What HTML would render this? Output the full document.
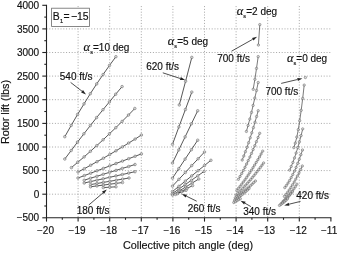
<!DOCTYPE html><html><head><meta charset="utf-8"><title>Rotor lift</title>
<style>html,body{margin:0;padding:0;background:#fff}svg{display:block;filter:blur(0.35px)}text{font-family:"Liberation Sans",Arial,sans-serif;fill:#111;stroke:#111;stroke-width:0.16px}</style></head><body>
<svg width="337" height="253" viewBox="0 0 337 253">
<rect width="337" height="253" fill="#fff"/>
<g stroke="#a6a6a6" stroke-width="1" stroke-dasharray="1 1.8" fill="none">
<path d="M78.1 6.1 V217.8"/>
<path d="M109.7 6.1 V217.8"/>
<path d="M141.3 6.1 V217.8"/>
<path d="M172.9 6.1 V217.8"/>
<path d="M204.5 6.1 V217.8"/>
<path d="M236.1 6.1 V217.8"/>
<path d="M267.7 6.1 V217.8"/>
<path d="M299.3 6.1 V217.8"/>
<path d="M46.5 194.2 H330.9"/>
<path d="M46.5 170.6 H330.9"/>
<path d="M46.5 147.0 H330.9"/>
<path d="M46.5 123.4 H330.9"/>
<path d="M46.5 99.7 H330.9"/>
<path d="M46.5 76.1 H330.9"/>
<path d="M46.5 52.5 H330.9"/>
<path d="M46.5 28.9 H330.9"/>
</g>
<g stroke="#222" stroke-width="1.1" fill="none">
<path d="M46.5 4.8 V217.8"/>
<path d="M46.0 217.8 H331.4"/>
<path d="M46.5 217.8 v3.8"/>
<path d="M62.3 217.8 v2"/>
<path d="M78.1 217.8 v3.8"/>
<path d="M93.9 217.8 v2"/>
<path d="M109.7 217.8 v3.8"/>
<path d="M125.5 217.8 v2"/>
<path d="M141.3 217.8 v3.8"/>
<path d="M157.1 217.8 v2"/>
<path d="M172.9 217.8 v3.8"/>
<path d="M188.7 217.8 v2"/>
<path d="M204.5 217.8 v3.8"/>
<path d="M220.3 217.8 v2"/>
<path d="M236.1 217.8 v3.8"/>
<path d="M251.9 217.8 v2"/>
<path d="M267.7 217.8 v3.8"/>
<path d="M283.5 217.8 v2"/>
<path d="M299.3 217.8 v3.8"/>
<path d="M315.1 217.8 v2"/>
<path d="M330.9 217.8 v3.8"/>
<path d="M46.5 217.8 h-4.2"/>
<path d="M46.5 206.0 h-2.2"/>
<path d="M46.5 194.2 h-4.2"/>
<path d="M46.5 182.4 h-2.2"/>
<path d="M46.5 170.6 h-4.2"/>
<path d="M46.5 158.8 h-2.2"/>
<path d="M46.5 147.0 h-4.2"/>
<path d="M46.5 135.2 h-2.2"/>
<path d="M46.5 123.4 h-4.2"/>
<path d="M46.5 111.5 h-2.2"/>
<path d="M46.5 99.7 h-4.2"/>
<path d="M46.5 87.9 h-2.2"/>
<path d="M46.5 76.1 h-4.2"/>
<path d="M46.5 64.3 h-2.2"/>
<path d="M46.5 52.5 h-4.2"/>
<path d="M46.5 40.7 h-2.2"/>
<path d="M46.5 28.9 h-4.2"/>
<path d="M46.5 17.1 h-2.2"/>
<path d="M46.5 5.3 h-4.2"/>
</g>
<g font-size="10" text-anchor="middle">
<text x="45.5" y="233.5">−20</text>
<text x="77.1" y="233.5">−19</text>
<text x="108.7" y="233.5">−18</text>
<text x="140.3" y="233.5">−17</text>
<text x="171.9" y="233.5">−16</text>
<text x="203.5" y="233.5">−15</text>
<text x="235.1" y="233.5">−14</text>
<text x="266.7" y="233.5">−13</text>
<text x="298.3" y="233.5">−12</text>
<text x="329.1" y="233.5">−11</text>
</g>
<g font-size="10" text-anchor="end">
<text x="39.2" y="221.4">−500</text>
<text x="39.2" y="197.8">0</text>
<text x="39.2" y="174.2">500</text>
<text x="39.2" y="150.6">1000</text>
<text x="39.2" y="127.0">1500</text>
<text x="39.2" y="103.3">2000</text>
<text x="39.2" y="79.7">2500</text>
<text x="39.2" y="56.1">3000</text>
<text x="39.2" y="32.5">3500</text>
<text x="39.2" y="8.9">4000</text>
</g>
<text x="188.1" y="249.4" font-size="10.8" text-anchor="middle">Collective pitch angle (deg)</text>
<text transform="translate(9.3 112) rotate(-90)" font-size="10.8" text-anchor="middle">Rotor lift (lbs)</text>
<polyline fill="none" stroke="#3a3a3a" stroke-width="0.85" stroke-opacity="1.0" points="64.8,136.7 71.2,125.4 77.6,114.4 84.0,103.9 90.3,93.7 96.7,83.9 103.1,74.5 109.5,65.4 115.9,56.7"/>
<circle cx="64.8" cy="136.7" r="1.3" fill="#d4d4d4" fill-opacity="0.75" stroke="#5c5c5c" stroke-width="0.5"/>
<circle cx="71.2" cy="125.4" r="1.3" fill="#d4d4d4" fill-opacity="0.75" stroke="#5c5c5c" stroke-width="0.5"/>
<circle cx="77.6" cy="114.4" r="1.3" fill="#d4d4d4" fill-opacity="0.75" stroke="#5c5c5c" stroke-width="0.5"/>
<circle cx="84.0" cy="103.9" r="1.3" fill="#d4d4d4" fill-opacity="0.75" stroke="#5c5c5c" stroke-width="0.5"/>
<circle cx="90.3" cy="93.7" r="1.3" fill="#d4d4d4" fill-opacity="0.75" stroke="#5c5c5c" stroke-width="0.5"/>
<circle cx="96.7" cy="83.9" r="1.3" fill="#d4d4d4" fill-opacity="0.75" stroke="#5c5c5c" stroke-width="0.5"/>
<circle cx="103.1" cy="74.5" r="1.3" fill="#d4d4d4" fill-opacity="0.75" stroke="#5c5c5c" stroke-width="0.5"/>
<circle cx="109.5" cy="65.4" r="1.3" fill="#d4d4d4" fill-opacity="0.75" stroke="#5c5c5c" stroke-width="0.5"/>
<circle cx="115.9" cy="56.7" r="1.3" fill="#d4d4d4" fill-opacity="0.75" stroke="#5c5c5c" stroke-width="0.5"/>
<polyline fill="none" stroke="#3a3a3a" stroke-width="0.85" stroke-opacity="1.0" points="64.8,159.0 71.2,150.5 77.5,142.1 83.9,133.8 90.3,125.6 96.6,117.6 103.0,109.7 109.4,101.9 115.7,94.2 122.1,86.6"/>
<circle cx="64.8" cy="159.0" r="1.3" fill="#d4d4d4" fill-opacity="0.75" stroke="#5c5c5c" stroke-width="0.5"/>
<circle cx="71.2" cy="150.5" r="1.3" fill="#d4d4d4" fill-opacity="0.75" stroke="#5c5c5c" stroke-width="0.5"/>
<circle cx="77.5" cy="142.1" r="1.3" fill="#d4d4d4" fill-opacity="0.75" stroke="#5c5c5c" stroke-width="0.5"/>
<circle cx="83.9" cy="133.8" r="1.3" fill="#d4d4d4" fill-opacity="0.75" stroke="#5c5c5c" stroke-width="0.5"/>
<circle cx="90.3" cy="125.6" r="1.3" fill="#d4d4d4" fill-opacity="0.75" stroke="#5c5c5c" stroke-width="0.5"/>
<circle cx="96.6" cy="117.6" r="1.3" fill="#d4d4d4" fill-opacity="0.75" stroke="#5c5c5c" stroke-width="0.5"/>
<circle cx="103.0" cy="109.7" r="1.3" fill="#d4d4d4" fill-opacity="0.75" stroke="#5c5c5c" stroke-width="0.5"/>
<circle cx="109.4" cy="101.9" r="1.3" fill="#d4d4d4" fill-opacity="0.75" stroke="#5c5c5c" stroke-width="0.5"/>
<circle cx="115.7" cy="94.2" r="1.3" fill="#d4d4d4" fill-opacity="0.75" stroke="#5c5c5c" stroke-width="0.5"/>
<circle cx="122.1" cy="86.6" r="1.3" fill="#d4d4d4" fill-opacity="0.75" stroke="#5c5c5c" stroke-width="0.5"/>
<polyline fill="none" stroke="#3a3a3a" stroke-width="0.85" stroke-opacity="1.0" points="71.4,167.6 77.7,162.3 84.1,156.9 90.4,151.3 96.8,145.6 103.1,139.8 109.4,133.8 115.8,127.7 122.1,121.4 128.5,115.0 134.8,108.5"/>
<circle cx="71.4" cy="167.6" r="1.3" fill="#d4d4d4" fill-opacity="0.75" stroke="#5c5c5c" stroke-width="0.5"/>
<circle cx="77.7" cy="162.3" r="1.3" fill="#d4d4d4" fill-opacity="0.75" stroke="#5c5c5c" stroke-width="0.5"/>
<circle cx="84.1" cy="156.9" r="1.3" fill="#d4d4d4" fill-opacity="0.75" stroke="#5c5c5c" stroke-width="0.5"/>
<circle cx="90.4" cy="151.3" r="1.3" fill="#d4d4d4" fill-opacity="0.75" stroke="#5c5c5c" stroke-width="0.5"/>
<circle cx="96.8" cy="145.6" r="1.3" fill="#d4d4d4" fill-opacity="0.75" stroke="#5c5c5c" stroke-width="0.5"/>
<circle cx="103.1" cy="139.8" r="1.3" fill="#d4d4d4" fill-opacity="0.75" stroke="#5c5c5c" stroke-width="0.5"/>
<circle cx="109.4" cy="133.8" r="1.3" fill="#d4d4d4" fill-opacity="0.75" stroke="#5c5c5c" stroke-width="0.5"/>
<circle cx="115.8" cy="127.7" r="1.3" fill="#d4d4d4" fill-opacity="0.75" stroke="#5c5c5c" stroke-width="0.5"/>
<circle cx="122.1" cy="121.4" r="1.3" fill="#d4d4d4" fill-opacity="0.75" stroke="#5c5c5c" stroke-width="0.5"/>
<circle cx="128.5" cy="115.0" r="1.3" fill="#d4d4d4" fill-opacity="0.75" stroke="#5c5c5c" stroke-width="0.5"/>
<circle cx="134.8" cy="108.5" r="1.3" fill="#d4d4d4" fill-opacity="0.75" stroke="#5c5c5c" stroke-width="0.5"/>
<polyline fill="none" stroke="#3a3a3a" stroke-width="0.85" stroke-opacity="1.0" points="78.0,172.0 84.3,168.7 90.7,165.2 97.0,161.7 103.4,158.2 109.7,154.5 116.0,150.8 122.4,146.9 128.7,143.0 135.1,139.1 141.4,135.0"/>
<circle cx="78.0" cy="172.0" r="1.3" fill="#d4d4d4" fill-opacity="0.75" stroke="#5c5c5c" stroke-width="0.5"/>
<circle cx="84.3" cy="168.7" r="1.3" fill="#d4d4d4" fill-opacity="0.75" stroke="#5c5c5c" stroke-width="0.5"/>
<circle cx="90.7" cy="165.2" r="1.3" fill="#d4d4d4" fill-opacity="0.75" stroke="#5c5c5c" stroke-width="0.5"/>
<circle cx="97.0" cy="161.7" r="1.3" fill="#d4d4d4" fill-opacity="0.75" stroke="#5c5c5c" stroke-width="0.5"/>
<circle cx="103.4" cy="158.2" r="1.3" fill="#d4d4d4" fill-opacity="0.75" stroke="#5c5c5c" stroke-width="0.5"/>
<circle cx="109.7" cy="154.5" r="1.3" fill="#d4d4d4" fill-opacity="0.75" stroke="#5c5c5c" stroke-width="0.5"/>
<circle cx="116.0" cy="150.8" r="1.3" fill="#d4d4d4" fill-opacity="0.75" stroke="#5c5c5c" stroke-width="0.5"/>
<circle cx="122.4" cy="146.9" r="1.3" fill="#d4d4d4" fill-opacity="0.75" stroke="#5c5c5c" stroke-width="0.5"/>
<circle cx="128.7" cy="143.0" r="1.3" fill="#d4d4d4" fill-opacity="0.75" stroke="#5c5c5c" stroke-width="0.5"/>
<circle cx="135.1" cy="139.1" r="1.3" fill="#d4d4d4" fill-opacity="0.75" stroke="#5c5c5c" stroke-width="0.5"/>
<circle cx="141.4" cy="135.0" r="1.3" fill="#d4d4d4" fill-opacity="0.75" stroke="#5c5c5c" stroke-width="0.5"/>
<polyline fill="none" stroke="#3a3a3a" stroke-width="0.85" stroke-opacity="1.0" points="78.0,178.0 84.3,175.6 90.7,173.2 97.0,170.8 103.4,168.4 109.7,165.9 116.0,163.5 122.4,161.1 128.7,158.7 135.1,156.3 141.4,153.9"/>
<circle cx="78.0" cy="178.0" r="1.3" fill="#d4d4d4" fill-opacity="0.75" stroke="#5c5c5c" stroke-width="0.5"/>
<circle cx="84.3" cy="175.6" r="1.3" fill="#d4d4d4" fill-opacity="0.75" stroke="#5c5c5c" stroke-width="0.5"/>
<circle cx="90.7" cy="173.2" r="1.3" fill="#d4d4d4" fill-opacity="0.75" stroke="#5c5c5c" stroke-width="0.5"/>
<circle cx="97.0" cy="170.8" r="1.3" fill="#d4d4d4" fill-opacity="0.75" stroke="#5c5c5c" stroke-width="0.5"/>
<circle cx="103.4" cy="168.4" r="1.3" fill="#d4d4d4" fill-opacity="0.75" stroke="#5c5c5c" stroke-width="0.5"/>
<circle cx="109.7" cy="165.9" r="1.3" fill="#d4d4d4" fill-opacity="0.75" stroke="#5c5c5c" stroke-width="0.5"/>
<circle cx="116.0" cy="163.5" r="1.3" fill="#d4d4d4" fill-opacity="0.75" stroke="#5c5c5c" stroke-width="0.5"/>
<circle cx="122.4" cy="161.1" r="1.3" fill="#d4d4d4" fill-opacity="0.75" stroke="#5c5c5c" stroke-width="0.5"/>
<circle cx="128.7" cy="158.7" r="1.3" fill="#d4d4d4" fill-opacity="0.75" stroke="#5c5c5c" stroke-width="0.5"/>
<circle cx="135.1" cy="156.3" r="1.3" fill="#d4d4d4" fill-opacity="0.75" stroke="#5c5c5c" stroke-width="0.5"/>
<circle cx="141.4" cy="153.9" r="1.3" fill="#d4d4d4" fill-opacity="0.75" stroke="#5c5c5c" stroke-width="0.5"/>
<polyline fill="none" stroke="#3a3a3a" stroke-width="0.85" stroke-opacity="1.0" points="84.2,180.2 90.5,178.2 96.9,176.3 103.2,174.3 109.6,172.3 116.0,170.4 122.3,168.4 128.7,166.5 135.0,164.5"/>
<circle cx="84.2" cy="180.2" r="1.3" fill="#d4d4d4" fill-opacity="0.75" stroke="#5c5c5c" stroke-width="0.5"/>
<circle cx="90.5" cy="178.2" r="1.3" fill="#d4d4d4" fill-opacity="0.75" stroke="#5c5c5c" stroke-width="0.5"/>
<circle cx="96.9" cy="176.3" r="1.3" fill="#d4d4d4" fill-opacity="0.75" stroke="#5c5c5c" stroke-width="0.5"/>
<circle cx="103.2" cy="174.3" r="1.3" fill="#d4d4d4" fill-opacity="0.75" stroke="#5c5c5c" stroke-width="0.5"/>
<circle cx="109.6" cy="172.3" r="1.3" fill="#d4d4d4" fill-opacity="0.75" stroke="#5c5c5c" stroke-width="0.5"/>
<circle cx="116.0" cy="170.4" r="1.3" fill="#d4d4d4" fill-opacity="0.75" stroke="#5c5c5c" stroke-width="0.5"/>
<circle cx="122.3" cy="168.4" r="1.3" fill="#d4d4d4" fill-opacity="0.75" stroke="#5c5c5c" stroke-width="0.5"/>
<circle cx="128.7" cy="166.5" r="1.3" fill="#d4d4d4" fill-opacity="0.75" stroke="#5c5c5c" stroke-width="0.5"/>
<circle cx="135.0" cy="164.5" r="1.3" fill="#d4d4d4" fill-opacity="0.75" stroke="#5c5c5c" stroke-width="0.5"/>
<polyline fill="none" stroke="#3a3a3a" stroke-width="0.85" stroke-opacity="1.0" points="84.2,183.0 90.5,181.6 96.9,180.2 103.2,178.8 109.6,177.3 116.0,175.9 122.3,174.5 128.7,173.1 135.0,171.7"/>
<circle cx="84.2" cy="183.0" r="1.3" fill="#d4d4d4" fill-opacity="0.75" stroke="#5c5c5c" stroke-width="0.5"/>
<circle cx="90.5" cy="181.6" r="1.3" fill="#d4d4d4" fill-opacity="0.75" stroke="#5c5c5c" stroke-width="0.5"/>
<circle cx="96.9" cy="180.2" r="1.3" fill="#d4d4d4" fill-opacity="0.75" stroke="#5c5c5c" stroke-width="0.5"/>
<circle cx="103.2" cy="178.8" r="1.3" fill="#d4d4d4" fill-opacity="0.75" stroke="#5c5c5c" stroke-width="0.5"/>
<circle cx="109.6" cy="177.3" r="1.3" fill="#d4d4d4" fill-opacity="0.75" stroke="#5c5c5c" stroke-width="0.5"/>
<circle cx="116.0" cy="175.9" r="1.3" fill="#d4d4d4" fill-opacity="0.75" stroke="#5c5c5c" stroke-width="0.5"/>
<circle cx="122.3" cy="174.5" r="1.3" fill="#d4d4d4" fill-opacity="0.75" stroke="#5c5c5c" stroke-width="0.5"/>
<circle cx="128.7" cy="173.1" r="1.3" fill="#d4d4d4" fill-opacity="0.75" stroke="#5c5c5c" stroke-width="0.5"/>
<circle cx="135.0" cy="171.7" r="1.3" fill="#d4d4d4" fill-opacity="0.75" stroke="#5c5c5c" stroke-width="0.5"/>
<polyline fill="none" stroke="#3a3a3a" stroke-width="0.85" stroke-opacity="1.0" points="90.5,184.6 96.9,183.5 103.3,182.4 109.8,181.3 116.2,180.2 122.6,179.1 129.0,178.0"/>
<circle cx="90.5" cy="184.6" r="1.3" fill="#d4d4d4" fill-opacity="0.75" stroke="#5c5c5c" stroke-width="0.5"/>
<circle cx="96.9" cy="183.5" r="1.3" fill="#d4d4d4" fill-opacity="0.75" stroke="#5c5c5c" stroke-width="0.5"/>
<circle cx="103.3" cy="182.4" r="1.3" fill="#d4d4d4" fill-opacity="0.75" stroke="#5c5c5c" stroke-width="0.5"/>
<circle cx="109.8" cy="181.3" r="1.3" fill="#d4d4d4" fill-opacity="0.75" stroke="#5c5c5c" stroke-width="0.5"/>
<circle cx="116.2" cy="180.2" r="1.3" fill="#d4d4d4" fill-opacity="0.75" stroke="#5c5c5c" stroke-width="0.5"/>
<circle cx="122.6" cy="179.1" r="1.3" fill="#d4d4d4" fill-opacity="0.75" stroke="#5c5c5c" stroke-width="0.5"/>
<circle cx="129.0" cy="178.0" r="1.3" fill="#d4d4d4" fill-opacity="0.75" stroke="#5c5c5c" stroke-width="0.5"/>
<polyline fill="none" stroke="#3a3a3a" stroke-width="0.85" stroke-opacity="1.0" points="90.5,186.8 96.9,185.9 103.3,185.1 109.7,184.2 116.1,183.4 122.5,182.5"/>
<circle cx="90.5" cy="186.8" r="1.3" fill="#d4d4d4" fill-opacity="0.75" stroke="#5c5c5c" stroke-width="0.5"/>
<circle cx="96.9" cy="185.9" r="1.3" fill="#d4d4d4" fill-opacity="0.75" stroke="#5c5c5c" stroke-width="0.5"/>
<circle cx="103.3" cy="185.1" r="1.3" fill="#d4d4d4" fill-opacity="0.75" stroke="#5c5c5c" stroke-width="0.5"/>
<circle cx="109.7" cy="184.2" r="1.3" fill="#d4d4d4" fill-opacity="0.75" stroke="#5c5c5c" stroke-width="0.5"/>
<circle cx="116.1" cy="183.4" r="1.3" fill="#d4d4d4" fill-opacity="0.75" stroke="#5c5c5c" stroke-width="0.5"/>
<circle cx="122.5" cy="182.5" r="1.3" fill="#d4d4d4" fill-opacity="0.75" stroke="#5c5c5c" stroke-width="0.5"/>
<polyline fill="none" stroke="#3a3a3a" stroke-width="0.85" stroke-opacity="1.0" points="103.3,187.6 109.7,187.2 116.0,186.8"/>
<circle cx="103.3" cy="187.6" r="1.3" fill="#d4d4d4" fill-opacity="0.75" stroke="#5c5c5c" stroke-width="0.5"/>
<circle cx="109.7" cy="187.2" r="1.3" fill="#d4d4d4" fill-opacity="0.75" stroke="#5c5c5c" stroke-width="0.5"/>
<circle cx="116.0" cy="186.8" r="1.3" fill="#d4d4d4" fill-opacity="0.75" stroke="#5c5c5c" stroke-width="0.5"/>
<polyline fill="none" stroke="#3a3a3a" stroke-width="0.85" stroke-opacity="1.0" points="179.3,104.9 185.6,81.2 191.8,57.4"/>
<circle cx="179.3" cy="104.9" r="1.3" fill="#d4d4d4" fill-opacity="0.75" stroke="#5c5c5c" stroke-width="0.5"/>
<circle cx="185.6" cy="81.2" r="1.3" fill="#d4d4d4" fill-opacity="0.75" stroke="#5c5c5c" stroke-width="0.5"/>
<circle cx="191.8" cy="57.4" r="1.3" fill="#d4d4d4" fill-opacity="0.75" stroke="#5c5c5c" stroke-width="0.5"/>
<polyline fill="none" stroke="#3a3a3a" stroke-width="0.85" stroke-opacity="1.0" points="172.5,144.3 178.9,126.9 185.4,109.5 191.8,92.1"/>
<circle cx="172.5" cy="144.3" r="1.3" fill="#d4d4d4" fill-opacity="0.75" stroke="#5c5c5c" stroke-width="0.5"/>
<circle cx="178.9" cy="126.9" r="1.3" fill="#d4d4d4" fill-opacity="0.75" stroke="#5c5c5c" stroke-width="0.5"/>
<circle cx="185.4" cy="109.5" r="1.3" fill="#d4d4d4" fill-opacity="0.75" stroke="#5c5c5c" stroke-width="0.5"/>
<circle cx="191.8" cy="92.1" r="1.3" fill="#d4d4d4" fill-opacity="0.75" stroke="#5c5c5c" stroke-width="0.5"/>
<polyline fill="none" stroke="#3a3a3a" stroke-width="0.85" stroke-opacity="1.0" points="172.5,163.0 178.8,149.9 185.1,136.9 191.4,123.8 197.7,110.8"/>
<circle cx="172.5" cy="163.0" r="1.3" fill="#d4d4d4" fill-opacity="0.75" stroke="#5c5c5c" stroke-width="0.5"/>
<circle cx="178.8" cy="149.9" r="1.3" fill="#d4d4d4" fill-opacity="0.75" stroke="#5c5c5c" stroke-width="0.5"/>
<circle cx="185.1" cy="136.9" r="1.3" fill="#d4d4d4" fill-opacity="0.75" stroke="#5c5c5c" stroke-width="0.5"/>
<circle cx="191.4" cy="123.8" r="1.3" fill="#d4d4d4" fill-opacity="0.75" stroke="#5c5c5c" stroke-width="0.5"/>
<circle cx="197.7" cy="110.8" r="1.3" fill="#d4d4d4" fill-opacity="0.75" stroke="#5c5c5c" stroke-width="0.5"/>
<polyline fill="none" stroke="#3a3a3a" stroke-width="0.85" stroke-opacity="1.0" points="172.5,178.1 178.8,168.6 185.1,159.1 191.4,149.7 197.7,140.2"/>
<circle cx="172.5" cy="178.1" r="1.3" fill="#d4d4d4" fill-opacity="0.75" stroke="#5c5c5c" stroke-width="0.5"/>
<circle cx="178.8" cy="168.6" r="1.3" fill="#d4d4d4" fill-opacity="0.75" stroke="#5c5c5c" stroke-width="0.5"/>
<circle cx="185.1" cy="159.1" r="1.3" fill="#d4d4d4" fill-opacity="0.75" stroke="#5c5c5c" stroke-width="0.5"/>
<circle cx="191.4" cy="149.7" r="1.3" fill="#d4d4d4" fill-opacity="0.75" stroke="#5c5c5c" stroke-width="0.5"/>
<circle cx="197.7" cy="140.2" r="1.3" fill="#d4d4d4" fill-opacity="0.75" stroke="#5c5c5c" stroke-width="0.5"/>
<polyline fill="none" stroke="#3a3a3a" stroke-width="0.85" stroke-opacity="1.0" points="172.5,186.1 178.9,179.3 185.3,172.5 191.7,165.6 198.1,158.8 204.5,152.0"/>
<circle cx="172.5" cy="186.1" r="1.3" fill="#d4d4d4" fill-opacity="0.75" stroke="#5c5c5c" stroke-width="0.5"/>
<circle cx="178.9" cy="179.3" r="1.3" fill="#d4d4d4" fill-opacity="0.75" stroke="#5c5c5c" stroke-width="0.5"/>
<circle cx="185.3" cy="172.5" r="1.3" fill="#d4d4d4" fill-opacity="0.75" stroke="#5c5c5c" stroke-width="0.5"/>
<circle cx="191.7" cy="165.6" r="1.3" fill="#d4d4d4" fill-opacity="0.75" stroke="#5c5c5c" stroke-width="0.5"/>
<circle cx="198.1" cy="158.8" r="1.3" fill="#d4d4d4" fill-opacity="0.75" stroke="#5c5c5c" stroke-width="0.5"/>
<circle cx="204.5" cy="152.0" r="1.3" fill="#d4d4d4" fill-opacity="0.75" stroke="#5c5c5c" stroke-width="0.5"/>
<polyline fill="none" stroke="#3a3a3a" stroke-width="0.85" stroke-opacity="1.0" points="172.5,191.5 178.9,186.3 185.3,181.1 191.7,175.9 198.1,170.7 204.5,165.5 210.9,160.3"/>
<circle cx="172.5" cy="191.5" r="1.3" fill="#d4d4d4" fill-opacity="0.75" stroke="#5c5c5c" stroke-width="0.5"/>
<circle cx="178.9" cy="186.3" r="1.3" fill="#d4d4d4" fill-opacity="0.75" stroke="#5c5c5c" stroke-width="0.5"/>
<circle cx="185.3" cy="181.1" r="1.3" fill="#d4d4d4" fill-opacity="0.75" stroke="#5c5c5c" stroke-width="0.5"/>
<circle cx="191.7" cy="175.9" r="1.3" fill="#d4d4d4" fill-opacity="0.75" stroke="#5c5c5c" stroke-width="0.5"/>
<circle cx="198.1" cy="170.7" r="1.3" fill="#d4d4d4" fill-opacity="0.75" stroke="#5c5c5c" stroke-width="0.5"/>
<circle cx="204.5" cy="165.5" r="1.3" fill="#d4d4d4" fill-opacity="0.75" stroke="#5c5c5c" stroke-width="0.5"/>
<circle cx="210.9" cy="160.3" r="1.3" fill="#d4d4d4" fill-opacity="0.75" stroke="#5c5c5c" stroke-width="0.5"/>
<polyline fill="none" stroke="#3a3a3a" stroke-width="0.85" stroke-opacity="1.0" points="172.5,193.5 178.8,189.1 185.1,184.7 191.5,180.2 197.8,175.8 204.1,171.4"/>
<circle cx="172.5" cy="193.5" r="1.3" fill="#d4d4d4" fill-opacity="0.75" stroke="#5c5c5c" stroke-width="0.5"/>
<circle cx="178.8" cy="189.1" r="1.3" fill="#d4d4d4" fill-opacity="0.75" stroke="#5c5c5c" stroke-width="0.5"/>
<circle cx="185.1" cy="184.7" r="1.3" fill="#d4d4d4" fill-opacity="0.75" stroke="#5c5c5c" stroke-width="0.5"/>
<circle cx="191.5" cy="180.2" r="1.3" fill="#d4d4d4" fill-opacity="0.75" stroke="#5c5c5c" stroke-width="0.5"/>
<circle cx="197.8" cy="175.8" r="1.3" fill="#d4d4d4" fill-opacity="0.75" stroke="#5c5c5c" stroke-width="0.5"/>
<circle cx="204.1" cy="171.4" r="1.3" fill="#d4d4d4" fill-opacity="0.75" stroke="#5c5c5c" stroke-width="0.5"/>
<polyline fill="none" stroke="#3a3a3a" stroke-width="0.85" stroke-opacity="1.0" points="172.5,195.0 179.1,191.0 185.7,187.0 192.2,183.0 198.8,179.0"/>
<circle cx="172.5" cy="195.0" r="1.3" fill="#d4d4d4" fill-opacity="0.75" stroke="#5c5c5c" stroke-width="0.5"/>
<circle cx="179.1" cy="191.0" r="1.3" fill="#d4d4d4" fill-opacity="0.75" stroke="#5c5c5c" stroke-width="0.5"/>
<circle cx="185.7" cy="187.0" r="1.3" fill="#d4d4d4" fill-opacity="0.75" stroke="#5c5c5c" stroke-width="0.5"/>
<circle cx="192.2" cy="183.0" r="1.3" fill="#d4d4d4" fill-opacity="0.75" stroke="#5c5c5c" stroke-width="0.5"/>
<circle cx="198.8" cy="179.0" r="1.3" fill="#d4d4d4" fill-opacity="0.75" stroke="#5c5c5c" stroke-width="0.5"/>
<polyline fill="none" stroke="#3a3a3a" stroke-width="0.85" stroke-opacity="1.0" points="175.5,194.4 181.2,191.5 186.9,188.5 192.6,185.6"/>
<circle cx="175.5" cy="194.4" r="1.3" fill="#d4d4d4" fill-opacity="0.75" stroke="#5c5c5c" stroke-width="0.5"/>
<circle cx="181.2" cy="191.5" r="1.3" fill="#d4d4d4" fill-opacity="0.75" stroke="#5c5c5c" stroke-width="0.5"/>
<circle cx="186.9" cy="188.5" r="1.3" fill="#d4d4d4" fill-opacity="0.75" stroke="#5c5c5c" stroke-width="0.5"/>
<circle cx="192.6" cy="185.6" r="1.3" fill="#d4d4d4" fill-opacity="0.75" stroke="#5c5c5c" stroke-width="0.5"/>
<polyline fill="none" stroke="#3a3a3a" stroke-width="0.85" stroke-opacity="1.0" points="177.5,193.6 181.8,191.9 186.0,190.3"/>
<circle cx="177.5" cy="193.6" r="1.3" fill="#d4d4d4" fill-opacity="0.75" stroke="#5c5c5c" stroke-width="0.5"/>
<circle cx="181.8" cy="191.9" r="1.3" fill="#d4d4d4" fill-opacity="0.75" stroke="#5c5c5c" stroke-width="0.5"/>
<circle cx="186.0" cy="190.3" r="1.3" fill="#d4d4d4" fill-opacity="0.75" stroke="#5c5c5c" stroke-width="0.5"/>
<polyline fill="none" stroke="#3a3a3a" stroke-width="0.85" stroke-opacity="0.8" points="258.4,45.0 259.8,24.6"/>
<circle cx="258.4" cy="45.0" r="1.2" fill="#d4d4d4" fill-opacity="0.75" stroke="#5c5c5c" stroke-width="0.5"/>
<circle cx="259.8" cy="24.6" r="1.2" fill="#d4d4d4" fill-opacity="0.75" stroke="#5c5c5c" stroke-width="0.5"/>
<polyline fill="none" stroke="#3a3a3a" stroke-width="0.85" stroke-opacity="0.8" points="253.2,89.3 254.9,79.3 256.5,68.4 258.2,56.6"/>
<circle cx="253.2" cy="89.3" r="1.2" fill="#d4d4d4" fill-opacity="0.75" stroke="#5c5c5c" stroke-width="0.5"/>
<circle cx="254.9" cy="79.3" r="1.2" fill="#d4d4d4" fill-opacity="0.75" stroke="#5c5c5c" stroke-width="0.5"/>
<circle cx="256.5" cy="68.4" r="1.2" fill="#d4d4d4" fill-opacity="0.75" stroke="#5c5c5c" stroke-width="0.5"/>
<circle cx="258.2" cy="56.6" r="1.2" fill="#d4d4d4" fill-opacity="0.75" stroke="#5c5c5c" stroke-width="0.5"/>
<polyline fill="none" stroke="#3a3a3a" stroke-width="0.85" stroke-opacity="0.8" points="246.4,131.4 248.1,125.4 249.8,119.1 251.5,112.4 253.1,105.4 254.8,98.1 256.5,90.5 258.2,82.5"/>
<circle cx="246.4" cy="131.4" r="1.2" fill="#d4d4d4" fill-opacity="0.75" stroke="#5c5c5c" stroke-width="0.5"/>
<circle cx="248.1" cy="125.4" r="1.2" fill="#d4d4d4" fill-opacity="0.75" stroke="#5c5c5c" stroke-width="0.5"/>
<circle cx="249.8" cy="119.1" r="1.2" fill="#d4d4d4" fill-opacity="0.75" stroke="#5c5c5c" stroke-width="0.5"/>
<circle cx="251.5" cy="112.4" r="1.2" fill="#d4d4d4" fill-opacity="0.75" stroke="#5c5c5c" stroke-width="0.5"/>
<circle cx="253.1" cy="105.4" r="1.2" fill="#d4d4d4" fill-opacity="0.75" stroke="#5c5c5c" stroke-width="0.5"/>
<circle cx="254.8" cy="98.1" r="1.2" fill="#d4d4d4" fill-opacity="0.75" stroke="#5c5c5c" stroke-width="0.5"/>
<circle cx="256.5" cy="90.5" r="1.2" fill="#d4d4d4" fill-opacity="0.75" stroke="#5c5c5c" stroke-width="0.5"/>
<circle cx="258.2" cy="82.5" r="1.2" fill="#d4d4d4" fill-opacity="0.75" stroke="#5c5c5c" stroke-width="0.5"/>
<polyline fill="none" stroke="#3a3a3a" stroke-width="0.85" stroke-opacity="0.8" points="242.2,160.0 243.8,156.0 245.4,151.7 247.0,147.3 248.6,142.7 250.2,137.8 251.8,132.8 253.4,127.6 255.0,122.2 256.6,116.5 258.2,110.7"/>
<circle cx="242.2" cy="160.0" r="1.2" fill="#d4d4d4" fill-opacity="0.75" stroke="#5c5c5c" stroke-width="0.5"/>
<circle cx="243.8" cy="156.0" r="1.2" fill="#d4d4d4" fill-opacity="0.75" stroke="#5c5c5c" stroke-width="0.5"/>
<circle cx="245.4" cy="151.7" r="1.2" fill="#d4d4d4" fill-opacity="0.75" stroke="#5c5c5c" stroke-width="0.5"/>
<circle cx="247.0" cy="147.3" r="1.2" fill="#d4d4d4" fill-opacity="0.75" stroke="#5c5c5c" stroke-width="0.5"/>
<circle cx="248.6" cy="142.7" r="1.2" fill="#d4d4d4" fill-opacity="0.75" stroke="#5c5c5c" stroke-width="0.5"/>
<circle cx="250.2" cy="137.8" r="1.2" fill="#d4d4d4" fill-opacity="0.75" stroke="#5c5c5c" stroke-width="0.5"/>
<circle cx="251.8" cy="132.8" r="1.2" fill="#d4d4d4" fill-opacity="0.75" stroke="#5c5c5c" stroke-width="0.5"/>
<circle cx="253.4" cy="127.6" r="1.2" fill="#d4d4d4" fill-opacity="0.75" stroke="#5c5c5c" stroke-width="0.5"/>
<circle cx="255.0" cy="122.2" r="1.2" fill="#d4d4d4" fill-opacity="0.75" stroke="#5c5c5c" stroke-width="0.5"/>
<circle cx="256.6" cy="116.5" r="1.2" fill="#d4d4d4" fill-opacity="0.75" stroke="#5c5c5c" stroke-width="0.5"/>
<circle cx="258.2" cy="110.7" r="1.2" fill="#d4d4d4" fill-opacity="0.75" stroke="#5c5c5c" stroke-width="0.5"/>
<polyline fill="none" stroke="#3a3a3a" stroke-width="0.85" stroke-opacity="0.8" points="238.4,179.3 240.0,176.5 241.7,173.5 243.3,170.5 245.0,167.3 246.6,164.0 248.2,160.6 249.9,157.0 251.5,153.4 253.1,149.6 254.8,145.7 256.4,141.7 258.1,137.5 259.7,133.3"/>
<circle cx="238.4" cy="179.3" r="1.2" fill="#d4d4d4" fill-opacity="0.75" stroke="#5c5c5c" stroke-width="0.5"/>
<circle cx="240.0" cy="176.5" r="1.2" fill="#d4d4d4" fill-opacity="0.75" stroke="#5c5c5c" stroke-width="0.5"/>
<circle cx="241.7" cy="173.5" r="1.2" fill="#d4d4d4" fill-opacity="0.75" stroke="#5c5c5c" stroke-width="0.5"/>
<circle cx="243.3" cy="170.5" r="1.2" fill="#d4d4d4" fill-opacity="0.75" stroke="#5c5c5c" stroke-width="0.5"/>
<circle cx="245.0" cy="167.3" r="1.2" fill="#d4d4d4" fill-opacity="0.75" stroke="#5c5c5c" stroke-width="0.5"/>
<circle cx="246.6" cy="164.0" r="1.2" fill="#d4d4d4" fill-opacity="0.75" stroke="#5c5c5c" stroke-width="0.5"/>
<circle cx="248.2" cy="160.6" r="1.2" fill="#d4d4d4" fill-opacity="0.75" stroke="#5c5c5c" stroke-width="0.5"/>
<circle cx="249.9" cy="157.0" r="1.2" fill="#d4d4d4" fill-opacity="0.75" stroke="#5c5c5c" stroke-width="0.5"/>
<circle cx="251.5" cy="153.4" r="1.2" fill="#d4d4d4" fill-opacity="0.75" stroke="#5c5c5c" stroke-width="0.5"/>
<circle cx="253.1" cy="149.6" r="1.2" fill="#d4d4d4" fill-opacity="0.75" stroke="#5c5c5c" stroke-width="0.5"/>
<circle cx="254.8" cy="145.7" r="1.2" fill="#d4d4d4" fill-opacity="0.75" stroke="#5c5c5c" stroke-width="0.5"/>
<circle cx="256.4" cy="141.7" r="1.2" fill="#d4d4d4" fill-opacity="0.75" stroke="#5c5c5c" stroke-width="0.5"/>
<circle cx="258.1" cy="137.5" r="1.2" fill="#d4d4d4" fill-opacity="0.75" stroke="#5c5c5c" stroke-width="0.5"/>
<circle cx="259.7" cy="133.3" r="1.2" fill="#d4d4d4" fill-opacity="0.75" stroke="#5c5c5c" stroke-width="0.5"/>
<polyline fill="none" stroke="#3a3a3a" stroke-width="0.85" stroke-opacity="0.8" points="236.9,190.3 238.5,188.3 240.1,186.3 241.7,184.2 243.3,182.0 245.0,179.8 246.6,177.5 248.2,175.1 249.8,172.7 251.4,170.2 253.0,167.7 254.6,165.1 256.2,162.4 257.9,159.7 259.5,156.9 261.1,154.0 262.7,151.1"/>
<circle cx="236.9" cy="190.3" r="1.2" fill="#d4d4d4" fill-opacity="0.75" stroke="#5c5c5c" stroke-width="0.5"/>
<circle cx="238.5" cy="188.3" r="1.2" fill="#d4d4d4" fill-opacity="0.75" stroke="#5c5c5c" stroke-width="0.5"/>
<circle cx="240.1" cy="186.3" r="1.2" fill="#d4d4d4" fill-opacity="0.75" stroke="#5c5c5c" stroke-width="0.5"/>
<circle cx="241.7" cy="184.2" r="1.2" fill="#d4d4d4" fill-opacity="0.75" stroke="#5c5c5c" stroke-width="0.5"/>
<circle cx="243.3" cy="182.0" r="1.2" fill="#d4d4d4" fill-opacity="0.75" stroke="#5c5c5c" stroke-width="0.5"/>
<circle cx="245.0" cy="179.8" r="1.2" fill="#d4d4d4" fill-opacity="0.75" stroke="#5c5c5c" stroke-width="0.5"/>
<circle cx="246.6" cy="177.5" r="1.2" fill="#d4d4d4" fill-opacity="0.75" stroke="#5c5c5c" stroke-width="0.5"/>
<circle cx="248.2" cy="175.1" r="1.2" fill="#d4d4d4" fill-opacity="0.75" stroke="#5c5c5c" stroke-width="0.5"/>
<circle cx="249.8" cy="172.7" r="1.2" fill="#d4d4d4" fill-opacity="0.75" stroke="#5c5c5c" stroke-width="0.5"/>
<circle cx="251.4" cy="170.2" r="1.2" fill="#d4d4d4" fill-opacity="0.75" stroke="#5c5c5c" stroke-width="0.5"/>
<circle cx="253.0" cy="167.7" r="1.2" fill="#d4d4d4" fill-opacity="0.75" stroke="#5c5c5c" stroke-width="0.5"/>
<circle cx="254.6" cy="165.1" r="1.2" fill="#d4d4d4" fill-opacity="0.75" stroke="#5c5c5c" stroke-width="0.5"/>
<circle cx="256.2" cy="162.4" r="1.2" fill="#d4d4d4" fill-opacity="0.75" stroke="#5c5c5c" stroke-width="0.5"/>
<circle cx="257.9" cy="159.7" r="1.2" fill="#d4d4d4" fill-opacity="0.75" stroke="#5c5c5c" stroke-width="0.5"/>
<circle cx="259.5" cy="156.9" r="1.2" fill="#d4d4d4" fill-opacity="0.75" stroke="#5c5c5c" stroke-width="0.5"/>
<circle cx="261.1" cy="154.0" r="1.2" fill="#d4d4d4" fill-opacity="0.75" stroke="#5c5c5c" stroke-width="0.5"/>
<circle cx="262.7" cy="151.1" r="1.2" fill="#d4d4d4" fill-opacity="0.75" stroke="#5c5c5c" stroke-width="0.5"/>
<polyline fill="none" stroke="#3a3a3a" stroke-width="0.85" stroke-opacity="0.8" points="236.1,195.0 237.7,193.4 239.3,191.9 241.0,190.2 242.6,188.6 244.2,186.8 245.8,185.1 247.4,183.3 249.0,181.4 250.7,179.6 252.3,177.6 253.9,175.7 255.5,173.7 257.1,171.6 258.7,169.5 260.4,167.4 262.0,165.2 263.6,163.0"/>
<circle cx="236.1" cy="195.0" r="1.2" fill="#d4d4d4" fill-opacity="0.75" stroke="#5c5c5c" stroke-width="0.5"/>
<circle cx="237.7" cy="193.4" r="1.2" fill="#d4d4d4" fill-opacity="0.75" stroke="#5c5c5c" stroke-width="0.5"/>
<circle cx="239.3" cy="191.9" r="1.2" fill="#d4d4d4" fill-opacity="0.75" stroke="#5c5c5c" stroke-width="0.5"/>
<circle cx="241.0" cy="190.2" r="1.2" fill="#d4d4d4" fill-opacity="0.75" stroke="#5c5c5c" stroke-width="0.5"/>
<circle cx="242.6" cy="188.6" r="1.2" fill="#d4d4d4" fill-opacity="0.75" stroke="#5c5c5c" stroke-width="0.5"/>
<circle cx="244.2" cy="186.8" r="1.2" fill="#d4d4d4" fill-opacity="0.75" stroke="#5c5c5c" stroke-width="0.5"/>
<circle cx="245.8" cy="185.1" r="1.2" fill="#d4d4d4" fill-opacity="0.75" stroke="#5c5c5c" stroke-width="0.5"/>
<circle cx="247.4" cy="183.3" r="1.2" fill="#d4d4d4" fill-opacity="0.75" stroke="#5c5c5c" stroke-width="0.5"/>
<circle cx="249.0" cy="181.4" r="1.2" fill="#d4d4d4" fill-opacity="0.75" stroke="#5c5c5c" stroke-width="0.5"/>
<circle cx="250.7" cy="179.6" r="1.2" fill="#d4d4d4" fill-opacity="0.75" stroke="#5c5c5c" stroke-width="0.5"/>
<circle cx="252.3" cy="177.6" r="1.2" fill="#d4d4d4" fill-opacity="0.75" stroke="#5c5c5c" stroke-width="0.5"/>
<circle cx="253.9" cy="175.7" r="1.2" fill="#d4d4d4" fill-opacity="0.75" stroke="#5c5c5c" stroke-width="0.5"/>
<circle cx="255.5" cy="173.7" r="1.2" fill="#d4d4d4" fill-opacity="0.75" stroke="#5c5c5c" stroke-width="0.5"/>
<circle cx="257.1" cy="171.6" r="1.2" fill="#d4d4d4" fill-opacity="0.75" stroke="#5c5c5c" stroke-width="0.5"/>
<circle cx="258.7" cy="169.5" r="1.2" fill="#d4d4d4" fill-opacity="0.75" stroke="#5c5c5c" stroke-width="0.5"/>
<circle cx="260.4" cy="167.4" r="1.2" fill="#d4d4d4" fill-opacity="0.75" stroke="#5c5c5c" stroke-width="0.5"/>
<circle cx="262.0" cy="165.2" r="1.2" fill="#d4d4d4" fill-opacity="0.75" stroke="#5c5c5c" stroke-width="0.5"/>
<circle cx="263.6" cy="163.0" r="1.2" fill="#d4d4d4" fill-opacity="0.75" stroke="#5c5c5c" stroke-width="0.5"/>
<polyline fill="none" stroke="#3a3a3a" stroke-width="0.85" stroke-opacity="0.8" points="235.3,197.8 237.0,196.6 238.7,195.4 240.3,194.2 242.0,192.9 243.7,191.6 245.4,190.2 247.0,188.8 248.7,187.3 250.4,185.8 252.1,184.2 253.7,182.6 255.4,181.0"/>
<circle cx="235.3" cy="197.8" r="1.2" fill="#d4d4d4" fill-opacity="0.75" stroke="#5c5c5c" stroke-width="0.5"/>
<circle cx="237.0" cy="196.6" r="1.2" fill="#d4d4d4" fill-opacity="0.75" stroke="#5c5c5c" stroke-width="0.5"/>
<circle cx="238.7" cy="195.4" r="1.2" fill="#d4d4d4" fill-opacity="0.75" stroke="#5c5c5c" stroke-width="0.5"/>
<circle cx="240.3" cy="194.2" r="1.2" fill="#d4d4d4" fill-opacity="0.75" stroke="#5c5c5c" stroke-width="0.5"/>
<circle cx="242.0" cy="192.9" r="1.2" fill="#d4d4d4" fill-opacity="0.75" stroke="#5c5c5c" stroke-width="0.5"/>
<circle cx="243.7" cy="191.6" r="1.2" fill="#d4d4d4" fill-opacity="0.75" stroke="#5c5c5c" stroke-width="0.5"/>
<circle cx="245.4" cy="190.2" r="1.2" fill="#d4d4d4" fill-opacity="0.75" stroke="#5c5c5c" stroke-width="0.5"/>
<circle cx="247.0" cy="188.8" r="1.2" fill="#d4d4d4" fill-opacity="0.75" stroke="#5c5c5c" stroke-width="0.5"/>
<circle cx="248.7" cy="187.3" r="1.2" fill="#d4d4d4" fill-opacity="0.75" stroke="#5c5c5c" stroke-width="0.5"/>
<circle cx="250.4" cy="185.8" r="1.2" fill="#d4d4d4" fill-opacity="0.75" stroke="#5c5c5c" stroke-width="0.5"/>
<circle cx="252.1" cy="184.2" r="1.2" fill="#d4d4d4" fill-opacity="0.75" stroke="#5c5c5c" stroke-width="0.5"/>
<circle cx="253.7" cy="182.6" r="1.2" fill="#d4d4d4" fill-opacity="0.75" stroke="#5c5c5c" stroke-width="0.5"/>
<circle cx="255.4" cy="181.0" r="1.2" fill="#d4d4d4" fill-opacity="0.75" stroke="#5c5c5c" stroke-width="0.5"/>
<polyline fill="none" stroke="#3a3a3a" stroke-width="0.85" stroke-opacity="0.8" points="234.6,200.2 236.2,199.1 237.8,198.0 239.4,196.8 241.0,195.5 242.6,194.2 244.2,192.9 245.8,191.5 247.4,190.1 249.0,188.6"/>
<circle cx="234.6" cy="200.2" r="1.2" fill="#d4d4d4" fill-opacity="0.75" stroke="#5c5c5c" stroke-width="0.5"/>
<circle cx="236.2" cy="199.1" r="1.2" fill="#d4d4d4" fill-opacity="0.75" stroke="#5c5c5c" stroke-width="0.5"/>
<circle cx="237.8" cy="198.0" r="1.2" fill="#d4d4d4" fill-opacity="0.75" stroke="#5c5c5c" stroke-width="0.5"/>
<circle cx="239.4" cy="196.8" r="1.2" fill="#d4d4d4" fill-opacity="0.75" stroke="#5c5c5c" stroke-width="0.5"/>
<circle cx="241.0" cy="195.5" r="1.2" fill="#d4d4d4" fill-opacity="0.75" stroke="#5c5c5c" stroke-width="0.5"/>
<circle cx="242.6" cy="194.2" r="1.2" fill="#d4d4d4" fill-opacity="0.75" stroke="#5c5c5c" stroke-width="0.5"/>
<circle cx="244.2" cy="192.9" r="1.2" fill="#d4d4d4" fill-opacity="0.75" stroke="#5c5c5c" stroke-width="0.5"/>
<circle cx="245.8" cy="191.5" r="1.2" fill="#d4d4d4" fill-opacity="0.75" stroke="#5c5c5c" stroke-width="0.5"/>
<circle cx="247.4" cy="190.1" r="1.2" fill="#d4d4d4" fill-opacity="0.75" stroke="#5c5c5c" stroke-width="0.5"/>
<circle cx="249.0" cy="188.6" r="1.2" fill="#d4d4d4" fill-opacity="0.75" stroke="#5c5c5c" stroke-width="0.5"/>
<polyline fill="none" stroke="#3a3a3a" stroke-width="0.85" stroke-opacity="0.8" points="233.8,202.5 235.4,201.6 237.1,200.6 238.7,199.6 240.3,198.7"/>
<circle cx="233.8" cy="202.5" r="1.2" fill="#d4d4d4" fill-opacity="0.75" stroke="#5c5c5c" stroke-width="0.5"/>
<circle cx="235.4" cy="201.6" r="1.2" fill="#d4d4d4" fill-opacity="0.75" stroke="#5c5c5c" stroke-width="0.5"/>
<circle cx="237.1" cy="200.6" r="1.2" fill="#d4d4d4" fill-opacity="0.75" stroke="#5c5c5c" stroke-width="0.5"/>
<circle cx="238.7" cy="199.6" r="1.2" fill="#d4d4d4" fill-opacity="0.75" stroke="#5c5c5c" stroke-width="0.5"/>
<circle cx="240.3" cy="198.7" r="1.2" fill="#d4d4d4" fill-opacity="0.75" stroke="#5c5c5c" stroke-width="0.5"/>
<circle cx="305.4" cy="77.5" r="1.2" fill="#d4d4d4" fill-opacity="0.75" stroke="#5c5c5c" stroke-width="0.5"/>
<polyline fill="none" stroke="#3a3a3a" stroke-width="0.85" stroke-opacity="0.8" points="293.8,147.6 295.3,143.1 296.8,137.1 298.3,129.6 299.7,120.7 301.2,110.3 302.7,98.4 304.2,85.1"/>
<circle cx="293.8" cy="147.6" r="1.2" fill="#d4d4d4" fill-opacity="0.75" stroke="#5c5c5c" stroke-width="0.5"/>
<circle cx="295.3" cy="143.1" r="1.2" fill="#d4d4d4" fill-opacity="0.75" stroke="#5c5c5c" stroke-width="0.5"/>
<circle cx="296.8" cy="137.1" r="1.2" fill="#d4d4d4" fill-opacity="0.75" stroke="#5c5c5c" stroke-width="0.5"/>
<circle cx="298.3" cy="129.6" r="1.2" fill="#d4d4d4" fill-opacity="0.75" stroke="#5c5c5c" stroke-width="0.5"/>
<circle cx="299.7" cy="120.7" r="1.2" fill="#d4d4d4" fill-opacity="0.75" stroke="#5c5c5c" stroke-width="0.5"/>
<circle cx="301.2" cy="110.3" r="1.2" fill="#d4d4d4" fill-opacity="0.75" stroke="#5c5c5c" stroke-width="0.5"/>
<circle cx="302.7" cy="98.4" r="1.2" fill="#d4d4d4" fill-opacity="0.75" stroke="#5c5c5c" stroke-width="0.5"/>
<circle cx="304.2" cy="85.1" r="1.2" fill="#d4d4d4" fill-opacity="0.75" stroke="#5c5c5c" stroke-width="0.5"/>
<polyline fill="none" stroke="#3a3a3a" stroke-width="0.85" stroke-opacity="0.8" points="289.6,170.1 291.2,166.5 292.9,162.4 294.5,157.9 296.1,153.0 297.8,147.6 299.4,141.8 301.1,135.6 302.7,128.9"/>
<circle cx="289.6" cy="170.1" r="1.2" fill="#d4d4d4" fill-opacity="0.75" stroke="#5c5c5c" stroke-width="0.5"/>
<circle cx="291.2" cy="166.5" r="1.2" fill="#d4d4d4" fill-opacity="0.75" stroke="#5c5c5c" stroke-width="0.5"/>
<circle cx="292.9" cy="162.4" r="1.2" fill="#d4d4d4" fill-opacity="0.75" stroke="#5c5c5c" stroke-width="0.5"/>
<circle cx="294.5" cy="157.9" r="1.2" fill="#d4d4d4" fill-opacity="0.75" stroke="#5c5c5c" stroke-width="0.5"/>
<circle cx="296.1" cy="153.0" r="1.2" fill="#d4d4d4" fill-opacity="0.75" stroke="#5c5c5c" stroke-width="0.5"/>
<circle cx="297.8" cy="147.6" r="1.2" fill="#d4d4d4" fill-opacity="0.75" stroke="#5c5c5c" stroke-width="0.5"/>
<circle cx="299.4" cy="141.8" r="1.2" fill="#d4d4d4" fill-opacity="0.75" stroke="#5c5c5c" stroke-width="0.5"/>
<circle cx="301.1" cy="135.6" r="1.2" fill="#d4d4d4" fill-opacity="0.75" stroke="#5c5c5c" stroke-width="0.5"/>
<circle cx="302.7" cy="128.9" r="1.2" fill="#d4d4d4" fill-opacity="0.75" stroke="#5c5c5c" stroke-width="0.5"/>
<polyline fill="none" stroke="#3a3a3a" stroke-width="0.85" stroke-opacity="0.8" points="284.8,187.6 286.4,185.5 288.0,183.1 289.6,180.5 291.2,177.6 292.8,174.5 294.5,171.1 296.1,167.4 297.7,163.4 299.3,159.2 300.9,154.7 302.5,150.0"/>
<circle cx="284.8" cy="187.6" r="1.2" fill="#d4d4d4" fill-opacity="0.75" stroke="#5c5c5c" stroke-width="0.5"/>
<circle cx="286.4" cy="185.5" r="1.2" fill="#d4d4d4" fill-opacity="0.75" stroke="#5c5c5c" stroke-width="0.5"/>
<circle cx="288.0" cy="183.1" r="1.2" fill="#d4d4d4" fill-opacity="0.75" stroke="#5c5c5c" stroke-width="0.5"/>
<circle cx="289.6" cy="180.5" r="1.2" fill="#d4d4d4" fill-opacity="0.75" stroke="#5c5c5c" stroke-width="0.5"/>
<circle cx="291.2" cy="177.6" r="1.2" fill="#d4d4d4" fill-opacity="0.75" stroke="#5c5c5c" stroke-width="0.5"/>
<circle cx="292.8" cy="174.5" r="1.2" fill="#d4d4d4" fill-opacity="0.75" stroke="#5c5c5c" stroke-width="0.5"/>
<circle cx="294.5" cy="171.1" r="1.2" fill="#d4d4d4" fill-opacity="0.75" stroke="#5c5c5c" stroke-width="0.5"/>
<circle cx="296.1" cy="167.4" r="1.2" fill="#d4d4d4" fill-opacity="0.75" stroke="#5c5c5c" stroke-width="0.5"/>
<circle cx="297.7" cy="163.4" r="1.2" fill="#d4d4d4" fill-opacity="0.75" stroke="#5c5c5c" stroke-width="0.5"/>
<circle cx="299.3" cy="159.2" r="1.2" fill="#d4d4d4" fill-opacity="0.75" stroke="#5c5c5c" stroke-width="0.5"/>
<circle cx="300.9" cy="154.7" r="1.2" fill="#d4d4d4" fill-opacity="0.75" stroke="#5c5c5c" stroke-width="0.5"/>
<circle cx="302.5" cy="150.0" r="1.2" fill="#d4d4d4" fill-opacity="0.75" stroke="#5c5c5c" stroke-width="0.5"/>
<polyline fill="none" stroke="#3a3a3a" stroke-width="0.85" stroke-opacity="0.8" points="284.4,196.4 286.0,194.4 287.7,192.2 289.3,189.9 290.9,187.4 292.5,184.8 294.2,182.0 295.8,179.1 297.4,176.0 299.0,172.8 300.7,169.5 302.3,166.0"/>
<circle cx="284.4" cy="196.4" r="1.2" fill="#d4d4d4" fill-opacity="0.75" stroke="#5c5c5c" stroke-width="0.5"/>
<circle cx="286.0" cy="194.4" r="1.2" fill="#d4d4d4" fill-opacity="0.75" stroke="#5c5c5c" stroke-width="0.5"/>
<circle cx="287.7" cy="192.2" r="1.2" fill="#d4d4d4" fill-opacity="0.75" stroke="#5c5c5c" stroke-width="0.5"/>
<circle cx="289.3" cy="189.9" r="1.2" fill="#d4d4d4" fill-opacity="0.75" stroke="#5c5c5c" stroke-width="0.5"/>
<circle cx="290.9" cy="187.4" r="1.2" fill="#d4d4d4" fill-opacity="0.75" stroke="#5c5c5c" stroke-width="0.5"/>
<circle cx="292.5" cy="184.8" r="1.2" fill="#d4d4d4" fill-opacity="0.75" stroke="#5c5c5c" stroke-width="0.5"/>
<circle cx="294.2" cy="182.0" r="1.2" fill="#d4d4d4" fill-opacity="0.75" stroke="#5c5c5c" stroke-width="0.5"/>
<circle cx="295.8" cy="179.1" r="1.2" fill="#d4d4d4" fill-opacity="0.75" stroke="#5c5c5c" stroke-width="0.5"/>
<circle cx="297.4" cy="176.0" r="1.2" fill="#d4d4d4" fill-opacity="0.75" stroke="#5c5c5c" stroke-width="0.5"/>
<circle cx="299.0" cy="172.8" r="1.2" fill="#d4d4d4" fill-opacity="0.75" stroke="#5c5c5c" stroke-width="0.5"/>
<circle cx="300.7" cy="169.5" r="1.2" fill="#d4d4d4" fill-opacity="0.75" stroke="#5c5c5c" stroke-width="0.5"/>
<circle cx="302.3" cy="166.0" r="1.2" fill="#d4d4d4" fill-opacity="0.75" stroke="#5c5c5c" stroke-width="0.5"/>
<polyline fill="none" stroke="#3a3a3a" stroke-width="0.85" stroke-opacity="0.8" points="283.2,201.3 284.7,199.9 286.2,198.3 287.8,196.7 289.3,194.9 290.8,193.0 292.3,191.0 293.9,188.8 295.4,186.6 296.9,184.2"/>
<circle cx="283.2" cy="201.3" r="1.2" fill="#d4d4d4" fill-opacity="0.75" stroke="#5c5c5c" stroke-width="0.5"/>
<circle cx="284.7" cy="199.9" r="1.2" fill="#d4d4d4" fill-opacity="0.75" stroke="#5c5c5c" stroke-width="0.5"/>
<circle cx="286.2" cy="198.3" r="1.2" fill="#d4d4d4" fill-opacity="0.75" stroke="#5c5c5c" stroke-width="0.5"/>
<circle cx="287.8" cy="196.7" r="1.2" fill="#d4d4d4" fill-opacity="0.75" stroke="#5c5c5c" stroke-width="0.5"/>
<circle cx="289.3" cy="194.9" r="1.2" fill="#d4d4d4" fill-opacity="0.75" stroke="#5c5c5c" stroke-width="0.5"/>
<circle cx="290.8" cy="193.0" r="1.2" fill="#d4d4d4" fill-opacity="0.75" stroke="#5c5c5c" stroke-width="0.5"/>
<circle cx="292.3" cy="191.0" r="1.2" fill="#d4d4d4" fill-opacity="0.75" stroke="#5c5c5c" stroke-width="0.5"/>
<circle cx="293.9" cy="188.8" r="1.2" fill="#d4d4d4" fill-opacity="0.75" stroke="#5c5c5c" stroke-width="0.5"/>
<circle cx="295.4" cy="186.6" r="1.2" fill="#d4d4d4" fill-opacity="0.75" stroke="#5c5c5c" stroke-width="0.5"/>
<circle cx="296.9" cy="184.2" r="1.2" fill="#d4d4d4" fill-opacity="0.75" stroke="#5c5c5c" stroke-width="0.5"/>
<polyline fill="none" stroke="#3a3a3a" stroke-width="0.85" stroke-opacity="0.8" points="281.2,203.6 282.8,202.3 284.4,200.9 286.0,199.3 287.5,197.6 289.1,195.8 290.7,193.9 292.3,191.8"/>
<circle cx="281.2" cy="203.6" r="1.2" fill="#d4d4d4" fill-opacity="0.75" stroke="#5c5c5c" stroke-width="0.5"/>
<circle cx="282.8" cy="202.3" r="1.2" fill="#d4d4d4" fill-opacity="0.75" stroke="#5c5c5c" stroke-width="0.5"/>
<circle cx="284.4" cy="200.9" r="1.2" fill="#d4d4d4" fill-opacity="0.75" stroke="#5c5c5c" stroke-width="0.5"/>
<circle cx="286.0" cy="199.3" r="1.2" fill="#d4d4d4" fill-opacity="0.75" stroke="#5c5c5c" stroke-width="0.5"/>
<circle cx="287.5" cy="197.6" r="1.2" fill="#d4d4d4" fill-opacity="0.75" stroke="#5c5c5c" stroke-width="0.5"/>
<circle cx="289.1" cy="195.8" r="1.2" fill="#d4d4d4" fill-opacity="0.75" stroke="#5c5c5c" stroke-width="0.5"/>
<circle cx="290.7" cy="193.9" r="1.2" fill="#d4d4d4" fill-opacity="0.75" stroke="#5c5c5c" stroke-width="0.5"/>
<circle cx="292.3" cy="191.8" r="1.2" fill="#d4d4d4" fill-opacity="0.75" stroke="#5c5c5c" stroke-width="0.5"/>
<polyline fill="none" stroke="#3a3a3a" stroke-width="0.85" stroke-opacity="0.8" points="279.5,205.4 281.1,204.3 282.7,203.1 284.3,201.8 285.9,200.4 287.5,198.8"/>
<circle cx="279.5" cy="205.4" r="1.2" fill="#d4d4d4" fill-opacity="0.75" stroke="#5c5c5c" stroke-width="0.5"/>
<circle cx="281.1" cy="204.3" r="1.2" fill="#d4d4d4" fill-opacity="0.75" stroke="#5c5c5c" stroke-width="0.5"/>
<circle cx="282.7" cy="203.1" r="1.2" fill="#d4d4d4" fill-opacity="0.75" stroke="#5c5c5c" stroke-width="0.5"/>
<circle cx="284.3" cy="201.8" r="1.2" fill="#d4d4d4" fill-opacity="0.75" stroke="#5c5c5c" stroke-width="0.5"/>
<circle cx="285.9" cy="200.4" r="1.2" fill="#d4d4d4" fill-opacity="0.75" stroke="#5c5c5c" stroke-width="0.5"/>
<circle cx="287.5" cy="198.8" r="1.2" fill="#d4d4d4" fill-opacity="0.75" stroke="#5c5c5c" stroke-width="0.5"/>
<path d="M70.6 82.4 L82.1 91.3" stroke="#222" stroke-width="0.8" fill="none"/>
<path d="M86.0 94.4 L83.0 90.1 L81.1 92.6 Z" fill="#222"/>
<path d="M162.8 72.8 L180.3 78.5" stroke="#222" stroke-width="0.8" fill="none"/>
<path d="M185.1 80.0 L180.8 76.9 L179.9 80.0 Z" fill="#222"/>
<path d="M231.5 51.2 L252.7 39.3" stroke="#222" stroke-width="0.8" fill="none"/>
<path d="M257.1 36.8 L252.0 37.9 L253.5 40.6 Z" fill="#222"/>
<path d="M281.2 83.4 L297.5 79.5" stroke="#222" stroke-width="0.8" fill="none"/>
<path d="M302.4 78.4 L297.2 78.0 L297.9 81.1 Z" fill="#222"/>
<path d="M88.8 205.0 L103.0 192.9" stroke="#222" stroke-width="0.8" fill="none"/>
<path d="M106.8 189.6 L102.0 191.6 L104.0 194.1 Z" fill="#222"/>
<path d="M196.7 201.2 L186.3 196.1" stroke="#222" stroke-width="0.8" fill="none"/>
<path d="M181.8 193.9 L185.6 197.5 L187.0 194.7 Z" fill="#222"/>
<path d="M250.9 206.6 L244.9 203.2" stroke="#222" stroke-width="0.8" fill="none"/>
<path d="M240.6 200.7 L244.1 204.6 L245.7 201.8 Z" fill="#222"/>
<path d="M300.5 201.4 L289.1 204.2" stroke="#222" stroke-width="0.8" fill="none"/>
<path d="M284.2 205.4 L289.4 205.8 L288.7 202.7 Z" fill="#222"/>
<text x="59.8" y="80.2" font-size="10" text-anchor="start">540 ft/s</text>
<text x="146.2" y="69.8" font-size="10" text-anchor="start">620 ft/s</text>
<text x="217.2" y="62.0" font-size="10" text-anchor="start">700 ft/s</text>
<text x="265.4" y="95.0" font-size="10" text-anchor="start">700 ft/s</text>
<text x="76.7" y="213.8" font-size="10" text-anchor="start">180 ft/s</text>
<text x="187.7" y="211.5" font-size="10" text-anchor="start">260 ft/s</text>
<text x="243.2" y="214.7" font-size="10" text-anchor="start">340 ft/s</text>
<text x="296.3" y="198.9" font-size="10" text-anchor="start">420 ft/s</text>
<text x="83.6" y="51.0" font-size="10"><tspan font-size="12.5" font-family="Liberation Serif,serif" font-style="italic">α</tspan><tspan font-size="5.5" dy="3.4" dx="0">s</tspan><tspan dy="-3.4" dx="0.1">=10 deg</tspan></text>
<text x="167.8" y="44.8" font-size="10"><tspan font-size="12.5" font-family="Liberation Serif,serif" font-style="italic">α</tspan><tspan font-size="5.5" dy="3.4" dx="0">s</tspan><tspan dy="-3.4" dx="0.1">=5 deg</tspan></text>
<text x="236.8" y="14.8" font-size="10"><tspan font-size="12.5" font-family="Liberation Serif,serif" font-style="italic">α</tspan><tspan font-size="5.5" dy="3.4" dx="0">s</tspan><tspan dy="-3.4" dx="0.1">=2 deg</tspan></text>
<text x="286.9" y="62.0" font-size="10"><tspan font-size="12.5" font-family="Liberation Serif,serif" font-style="italic">α</tspan><tspan font-size="5.5" dy="3.4" dx="0">s</tspan><tspan dy="-3.4" dx="0.1">=0 deg</tspan></text>
<rect x="51.6" y="8.2" width="37.9" height="18.2" fill="#fff" stroke="#6a6a6a" stroke-width="0.8"/>
<text x="52.8" y="19.8" font-size="10.4">B<tspan font-size="5.7" dy="3" dx="0.2">1</tspan><tspan dy="-3" dx="0.3">=</tspan><tspan dx="1.5">−15</tspan></text>
</svg></body></html>
